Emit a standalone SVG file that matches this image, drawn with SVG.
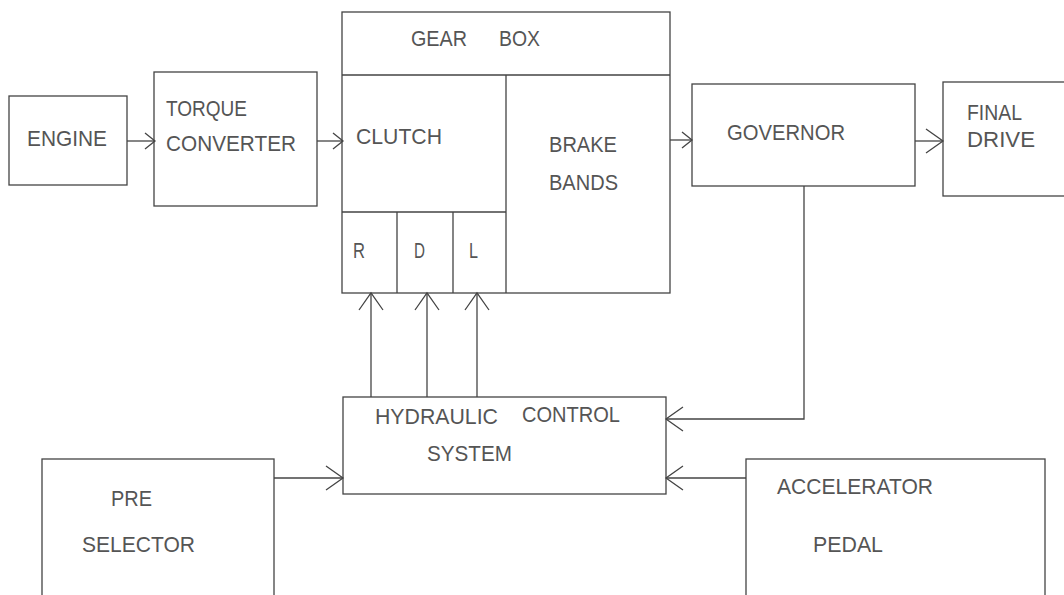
<svg xmlns="http://www.w3.org/2000/svg" width="1064" height="595" viewBox="0 0 1064 595">
<style>
.b{fill:none;stroke:#444;stroke-width:1.3}
.c{fill:none;stroke:#444;stroke-width:1.3}
text{font-family:"Liberation Sans",Arial,sans-serif;font-size:22px;fill:#555}
</style>
<defs>
<marker id="a" markerUnits="userSpaceOnUse" orient="auto" markerWidth="20" markerHeight="26" refX="17" refY="12" viewBox="0 0 20 26" overflow="visible"><path d="M0,0 L17,12 L0,24" fill="none" stroke="#444" stroke-width="1.3"/></marker>
<marker id="s" markerUnits="userSpaceOnUse" orient="auto" markerWidth="14" markerHeight="20" refX="10" refY="8" viewBox="0 0 14 20" overflow="visible"><path d="M0,0 L10,8 L0,16" fill="none" stroke="#444" stroke-width="1.3"/></marker>
</defs>
<rect width="1064" height="595" fill="#fff"/>
<g id="connectors">
<path class="c" d="M127,141 H155" marker-end="url(#s)"/>
<path class="c" d="M317,141 H343" marker-end="url(#s)"/>
<path class="c" d="M670,140 H692" marker-end="url(#s)"/>
<path class="c" d="M915,141 H943" marker-end="url(#a)"/>
<path class="c" d="M804,186 V419 H666" marker-end="url(#a)"/>
<path class="c" d="M274,478 H343" marker-end="url(#a)"/>
<path class="c" d="M746,478 H666" marker-end="url(#a)"/>
<path class="c" d="M371,397 V293" marker-end="url(#a)"/>
<path class="c" d="M427,397 V293" marker-end="url(#a)"/>
<path class="c" d="M477,397 V293" marker-end="url(#a)"/>
</g>
<g id="engine">
<rect class="b" x="9" y="96" width="118" height="89"/>
<text x="27" y="146" textLength="80" lengthAdjust="spacingAndGlyphs">ENGINE</text>
</g>
<g id="torque-converter">
<rect class="b" x="154" y="72" width="163" height="134"/>
<text x="166" y="116" textLength="81" lengthAdjust="spacingAndGlyphs">TORQUE</text>
<text x="166" y="151" textLength="130" lengthAdjust="spacingAndGlyphs">CONVERTER</text>
</g>
<g id="gear-box">
<rect class="b" x="342" y="12" width="328" height="281"/>
<path class="b" d="M342,75 H670 M506,75 V293 M342,212 H506 M397,212 V293 M453,212 V293"/>
<text x="411" y="46" textLength="56" lengthAdjust="spacingAndGlyphs">GEAR</text>
<text x="499" y="46" textLength="41" lengthAdjust="spacingAndGlyphs">BOX</text>
</g>
<g id="clutch">
<text x="356" y="144" textLength="86" lengthAdjust="spacingAndGlyphs">CLUTCH</text>
</g>
<g id="brake-bands">
<text x="549" y="152" textLength="68" lengthAdjust="spacingAndGlyphs">BRAKE</text>
<text x="549" y="190" textLength="69" lengthAdjust="spacingAndGlyphs">BANDS</text>
</g>
<g id="gear-r"><text x="353" y="258" textLength="12" lengthAdjust="spacingAndGlyphs">R</text></g>
<g id="gear-d"><text x="414" y="258" textLength="11" lengthAdjust="spacingAndGlyphs">D</text></g>
<g id="gear-l"><text x="469" y="258" textLength="9" lengthAdjust="spacingAndGlyphs">L</text></g>
<g id="governor">
<rect class="b" x="692" y="84" width="223" height="102"/>
<text x="727" y="140" textLength="118" lengthAdjust="spacingAndGlyphs">GOVERNOR</text>
</g>
<g id="final-drive">
<rect class="b" x="943" y="82" width="140" height="114"/>
<text x="967" y="120" textLength="55" lengthAdjust="spacingAndGlyphs">FINAL</text>
<text x="967" y="147" textLength="68" lengthAdjust="spacingAndGlyphs">DRIVE</text>
</g>
<g id="hydraulic-control">
<rect class="b" x="343" y="397" width="323" height="97"/>
<text x="375" y="424" textLength="123" lengthAdjust="spacingAndGlyphs">HYDRAULIC</text>
<text x="522" y="422" textLength="98" lengthAdjust="spacingAndGlyphs">CONTROL</text>
<text x="427" y="461" textLength="85" lengthAdjust="spacingAndGlyphs">SYSTEM</text>
</g>
<g id="pre-selector">
<rect class="b" x="42" y="459" width="232" height="160"/>
<text x="111" y="506" textLength="41" lengthAdjust="spacingAndGlyphs">PRE</text>
<text x="82" y="552" textLength="113" lengthAdjust="spacingAndGlyphs">SELECTOR</text>
</g>
<g id="accelerator-pedal">
<rect class="b" x="746" y="459" width="299" height="160"/>
<text x="777" y="494" textLength="156" lengthAdjust="spacingAndGlyphs">ACCELERATOR</text>
<text x="813" y="552" textLength="70" lengthAdjust="spacingAndGlyphs">PEDAL</text>
</g>
</svg>
